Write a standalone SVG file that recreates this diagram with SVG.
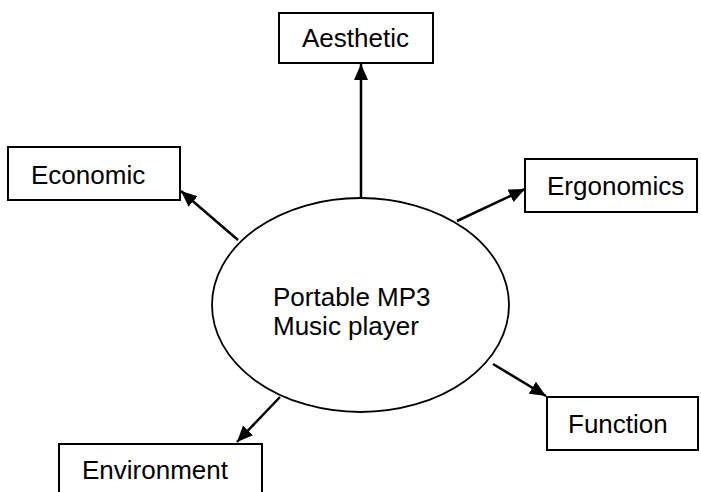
<svg xmlns="http://www.w3.org/2000/svg" width="701" height="492" viewBox="0 0 701 492">
<style>
.box{fill:#fff;stroke:#000;stroke-width:2}
.lbl{font-family:"Liberation Sans",Arial,sans-serif;font-size:26px;fill:#000}
.conn{stroke:#000;stroke-width:2.5;fill:none}
</style>
<defs>
<marker id="ah" markerUnits="userSpaceOnUse" markerWidth="16" markerHeight="14" refX="16" refY="7" orient="auto">
<path d="M0,0 L16,7 L0,14 Z" fill="#000"/>
</marker>
</defs>
<rect width="701" height="492" fill="#fff"/>
<g id="connectors">
<line class="conn" x1="361" y1="198" x2="361" y2="64" marker-end="url(#ah)"/>
<line class="conn" x1="238" y1="240" x2="181" y2="191" marker-end="url(#ah)"/>
<line class="conn" x1="457" y1="221" x2="525" y2="189" marker-end="url(#ah)"/>
<line class="conn" x1="493" y1="364" x2="546" y2="396" marker-end="url(#ah)"/>
<line class="conn" x1="280" y1="397" x2="237" y2="442" marker-end="url(#ah)"/>
</g>
<g id="center">
<ellipse cx="360.5" cy="305" rx="148.5" ry="107" fill="#fff" stroke="#000" stroke-width="1.8"/>
<text class="lbl" x="273" y="306">Portable MP3</text>
<text class="lbl" x="273" y="335">Music player</text>
</g>
<g id="aesthetic">
<rect class="box" x="279" y="13" width="154" height="50"/>
<text class="lbl" x="302" y="47">Aesthetic</text>
</g>
<g id="economic">
<rect class="box" x="8" y="147" width="172" height="53"/>
<text class="lbl" x="31" y="184">Economic</text>
</g>
<g id="ergonomics">
<rect class="box" x="525" y="159" width="172" height="53"/>
<text class="lbl" x="547" y="195">Ergonomics</text>
</g>
<g id="function">
<rect class="box" x="547" y="397" width="151" height="53"/>
<text class="lbl" x="568" y="433">Function</text>
</g>
<g id="environment">
<rect class="box" x="59" y="444" width="203" height="60"/>
<text class="lbl" x="82" y="479">Environment</text>
</g>
</svg>
